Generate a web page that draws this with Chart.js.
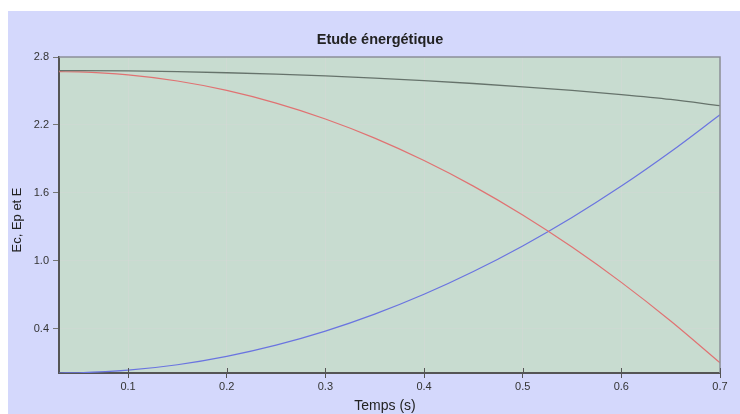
<!DOCTYPE html>
<html>
<head>
<meta charset="utf-8">
<script src="https://cdn.jsdelivr.net/npm/chart.js@4.4.1/dist/chart.umd.min.js"></script>
<style>
  html, body { margin: 0; padding: 0; background: #ffffff; }
  #wrap { position: relative; width: 740px; height: 414px; }
</style>
</head>
<body>
<div id="wrap"><canvas id="c" width="740" height="414"></canvas></div>
<script>
// Temps (s)
const temps = [0.03, 0.05, 0.10, 0.15, 0.20, 0.25, 0.30, 0.35, 0.40, 0.45, 0.50, 0.55, 0.60, 0.65, 0.70];
// Energie cinétique Ec
const ec = [0.010, 0.012, 0.035, 0.083, 0.157, 0.256, 0.380, 0.530, 0.705, 0.906, 1.132, 1.383, 1.660, 1.963, 2.290];
// Energie potentielle Ep
const ep = [2.670, 2.668, 2.642, 2.588, 2.505, 2.393, 2.253, 2.084, 1.886, 1.660, 1.405, 1.122, 0.810, 0.469, 0.100];
// Energie mécanique E
const em = [2.680, 2.680, 2.677, 2.671, 2.661, 2.649, 2.633, 2.614, 2.592, 2.566, 2.537, 2.505, 2.468, 2.425, 2.370];

const xTicks = [0.1, 0.2, 0.3, 0.4, 0.5, 0.6, 0.7];
const yTicks = [0.4, 1.0, 1.6, 2.2, 2.8];

const titre = 'Etude énergétique';
const titreX = 'Temps (s)';
const titreY = 'Ec, Ep et E';

const pts = arr => temps.map((t, i) => ({ x: t, y: arr[i] }));

// Background, plot frame and titles
const decor = {
  id: 'decor',
  beforeDraw(chart) {
    const ctx = chart.ctx;
    const a = chart.chartArea;
    ctx.save();
    ctx.fillStyle = '#ffffff';
    ctx.fillRect(0, 0, chart.width, chart.height);
    ctx.fillStyle = '#d4d8fc';
    ctx.fillRect(8, 11, chart.width - 8, chart.height - 11);
    ctx.fillStyle = '#c8dcd0';
    ctx.fillRect(a.left, a.top, a.right - a.left, a.bottom - a.top);
    ctx.restore();
  },
  afterDraw(chart) {
    const ctx = chart.ctx;
    const a = chart.chartArea;
    ctx.save();
    // top and right frame
    ctx.strokeStyle = '#8a8f98';
    ctx.lineWidth = 1.5;
    ctx.beginPath();
    ctx.moveTo(a.left, a.top);
    ctx.lineTo(a.right, a.top);
    ctx.lineTo(a.right, a.bottom);
    ctx.stroke();
    // inward part of the x ticks
    const xs = chart.scales.x;
    ctx.strokeStyle = '#555555';
    ctx.lineWidth = 1;
    xTicks.forEach(v => {
      const px = Math.round(xs.getPixelForValue(v)) + 0.5;
      ctx.beginPath();
      ctx.moveTo(px, a.bottom);
      ctx.lineTo(px, a.bottom - 5);
      ctx.stroke();
    });
    // titles
    ctx.fillStyle = '#222222';
    ctx.textAlign = 'center';
    ctx.textBaseline = 'middle';
    ctx.font = 'bold 14.5px "Liberation Sans", Arial, sans-serif';
    ctx.fillText(titre, 380, 40);
    ctx.font = '14px "Liberation Sans", Arial, sans-serif';
    ctx.fillText(titreX, 385, 406);
    ctx.font = '13px "Liberation Sans", Arial, sans-serif';
    ctx.translate(17, 220);
    ctx.rotate(-Math.PI / 2);
    ctx.fillText(titreY, 0, 0);
    ctx.restore();
  }
};

const tickFont = { family: '"Liberation Sans", Arial, sans-serif', size: 11 };

new Chart(document.getElementById('c'), {
  type: 'line',
  data: {
    datasets: [
      { label: 'E', data: pts(em), borderColor: '#66736b', borderWidth: 1.3 },
      { label: 'Ep', data: pts(ep), borderColor: '#e07272', borderWidth: 1.2 },
      { label: 'Ec', data: pts(ec), borderColor: '#6a74e0', borderWidth: 1.2 }
    ]
  },
  options: {
    responsive: false,
    animation: false,
    devicePixelRatio: 1,
    layout: { padding: { top: 57, right: 20, left: 0, bottom: 0 } },
    elements: {
      point: { radius: 0 },
      line: { cubicInterpolationMode: 'monotone', fill: false }
    },
    plugins: {
      legend: { display: false },
      title: { display: false },
      tooltip: { enabled: false }
    },
    scales: {
      x: {
        type: 'linear',
        min: 0.03,
        max: 0.7,
        afterBuildTicks: s => { s.ticks = xTicks.map(v => ({ value: v })); },
        afterFit: s => { s.height = 41; },
        ticks: {
          color: '#333333',
          font: tickFont,
          padding: 2,
          maxRotation: 0,
          callback: v => String(Math.round(v * 10) / 10)
        },
        grid: {
          color: 'rgba(215,215,215,0.45)',
          lineWidth: 1,
          drawTicks: true,
          tickLength: 5,
          tickColor: '#555555'
        },
        border: { display: true, color: '#555555', width: 2 }
      },
      y: {
        type: 'linear',
        min: 0.01,
        max: 2.8,
        afterBuildTicks: s => { s.ticks = yTicks.map(v => ({ value: v })); },
        afterFit: s => { s.width = 59; },
        ticks: {
          color: '#333333',
          font: tickFont,
          padding: 4,
          callback: v => v.toFixed(1)
        },
        grid: {
          color: 'rgba(215,215,215,0.35)',
          lineWidth: 1,
          drawTicks: true,
          tickLength: 6,
          tickColor: '#777777'
        },
        border: { display: true, color: '#555555', width: 2 }
      }
    }
  },
  plugins: [decor]
});
</script>
</body>
</html>
